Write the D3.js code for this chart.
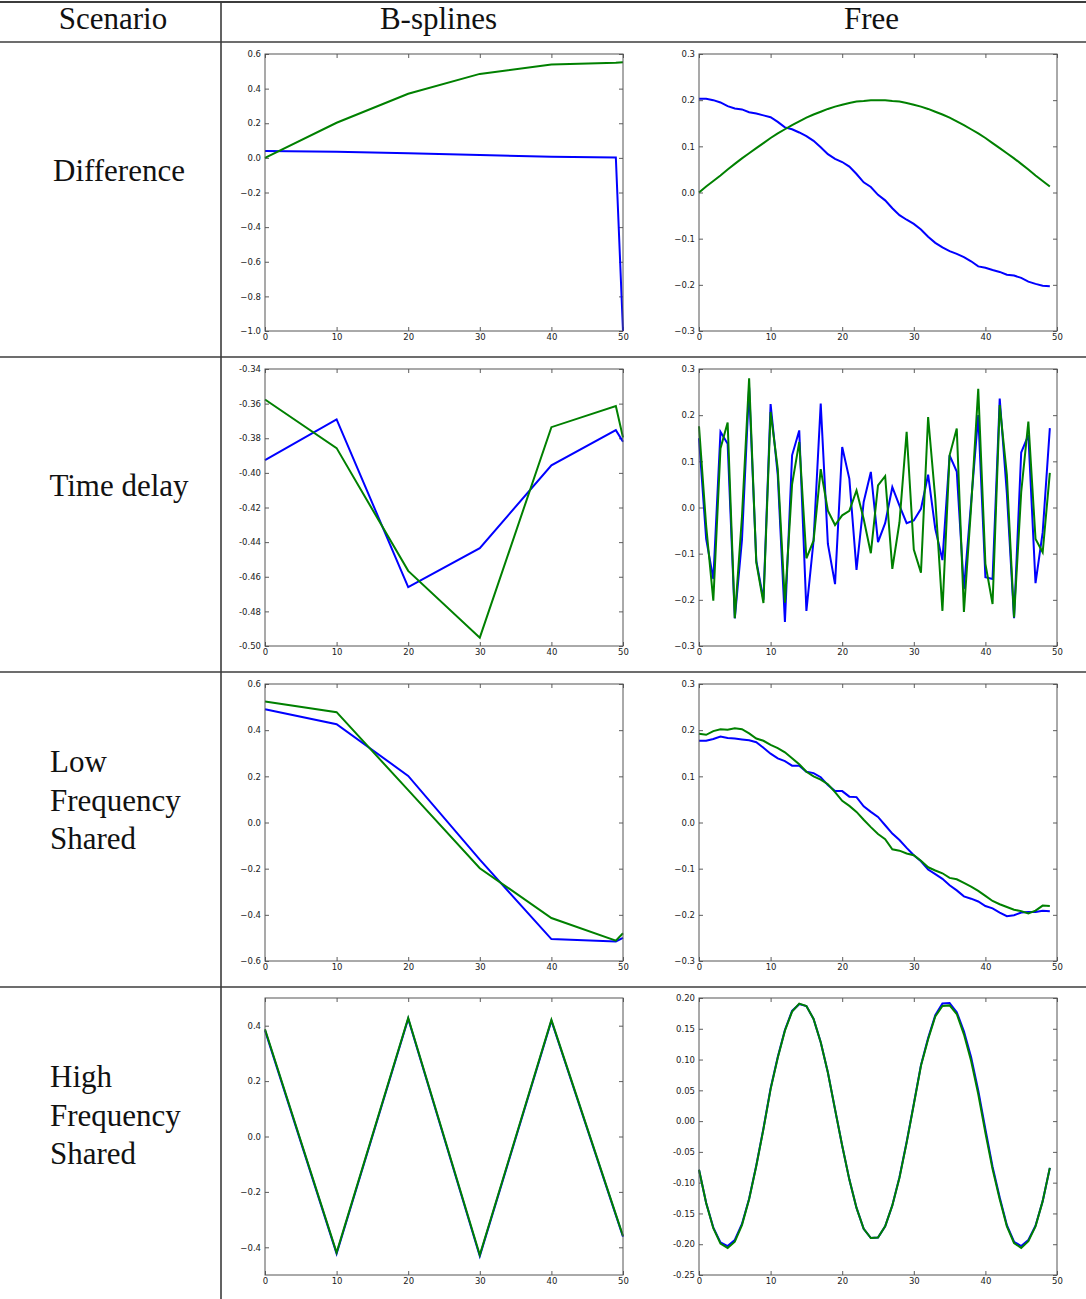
<!DOCTYPE html>
<html>
<head>
<meta charset="utf-8">
<script src="https://cdn.jsdelivr.net/npm/d3@7"></script>
<style>
  body { margin: 0; background: #fff; }
  svg { display: block; }
</style>
</head>
<body>
<svg id="chart" width="1086" height="1299"></svg>
<script>
// ---- table text ----
const columnHeaders = ["Scenario", "B-splines", "Free"];
const scenarioLabels = [["Difference"], ["Time delay"], ["Low", "Frequency", "Shared"], ["High", "Frequency", "Shared"]];

// ---- x axis ----
const bsplineX = [0, 10, 20, 30, 40, 49, 50];
const xTicks = [0, 10, 20, 30, 40, 50];
const xTickLabels = ["0", "10", "20", "30", "40", "50"];

// ---- Difference ----
const diffBsBlue  = [0.040, 0.036, 0.026, 0.016, 0.007, 0.002, -1.0];
const diffBsGreen = [0.000, 0.203, 0.370, 0.485, 0.539, 0.549, 0.552];
const diffFreeBlue = [
  0.203, 0.203, 0.200, 0.195, 0.187, 0.182, 0.180, 0.174, 0.171, 0.167,
  0.163, 0.153, 0.141, 0.137, 0.130, 0.122, 0.112, 0.098, 0.083, 0.073,
  0.066, 0.056, 0.040, 0.022, 0.012, -0.005, -0.017, -0.034, -0.049, -0.059,
  -0.068, -0.080, -0.096, -0.109, -0.119, -0.127, -0.133, -0.140, -0.149, -0.160,
  -0.163, -0.168, -0.172, -0.178, -0.180, -0.185, -0.193, -0.198, -0.202, -0.203];
const diffFreeGreen = [
  0.000, 0.013, 0.025, 0.037, 0.050, 0.062, 0.074, 0.085, 0.096, 0.107,
  0.118, 0.128, 0.137, 0.146, 0.154, 0.162, 0.169, 0.175, 0.181, 0.186,
  0.190, 0.194, 0.197, 0.198, 0.200, 0.200, 0.200, 0.198, 0.197, 0.194,
  0.190, 0.186, 0.181, 0.175, 0.169, 0.162, 0.154, 0.146, 0.137, 0.128,
  0.118, 0.107, 0.096, 0.085, 0.074, 0.062, 0.050, 0.037, 0.025, 0.013];

// ---- Time delay ----
const delayBsBlue  = [-0.3927, -0.3691, -0.4660, -0.4435, -0.3956, -0.3753, -0.3820];
const delayBsGreen = [-0.3576, -0.3857, -0.4566, -0.4952, -0.3736, -0.3614, -0.3796];
const delayFreeBlue = [
  0.150, -0.068, -0.155, 0.164, 0.138, -0.240, -0.070, 0.260, -0.115, -0.200,
  0.224, 0.070, -0.248, 0.113, 0.167, -0.224, -0.072, 0.225, -0.079, -0.166,
  0.131, 0.062, -0.135, 0.012, 0.077, -0.075, -0.034, 0.044, 0.004, -0.034,
  -0.028, -0.003, 0.071, -0.046, -0.114, 0.113, 0.078, -0.177, 0.010, 0.200,
  -0.151, -0.155, 0.236, 0.030, -0.240, 0.119, 0.157, -0.164, -0.054, 0.172];
const delayFreeGreen = [
  0.176, -0.040, -0.202, 0.128, 0.184, -0.240, -0.020, 0.280, -0.119, -0.207,
  0.207, 0.084, -0.206, 0.050, 0.142, -0.110, -0.072, 0.083, -0.007, -0.038,
  -0.017, -0.007, 0.037, -0.025, -0.099, 0.048, 0.068, -0.133, -0.032, 0.164,
  -0.091, -0.141, 0.196, 0.019, -0.224, 0.113, 0.171, -0.226, 0.000, 0.257,
  -0.122, -0.209, 0.222, 0.070, -0.238, 0.033, 0.186, -0.068, -0.097, 0.075];

// ---- Low frequency shared ----
const lowBsBlue  = [0.491, 0.426, 0.202, -0.161, -0.505, -0.515, -0.500];
const lowBsGreen = [0.524, 0.478, 0.140, -0.198, -0.414, -0.512, -0.480];
const lowFreeBlue = [
  0.177, 0.177, 0.181, 0.186, 0.183, 0.182, 0.180, 0.178, 0.174, 0.162,
  0.149, 0.139, 0.133, 0.123, 0.123, 0.110, 0.107, 0.098, 0.081, 0.068,
  0.068, 0.056, 0.055, 0.035, 0.023, 0.012, -0.006, -0.024, -0.038, -0.055,
  -0.071, -0.084, -0.102, -0.112, -0.122, -0.136, -0.147, -0.160, -0.165, -0.171,
  -0.181, -0.186, -0.195, -0.203, -0.201, -0.195, -0.194, -0.194, -0.191, -0.192];
const lowFreeGreen = [
  0.192, 0.190, 0.198, 0.202, 0.201, 0.204, 0.202, 0.193, 0.182, 0.177,
  0.168, 0.161, 0.152, 0.139, 0.126, 0.110, 0.100, 0.093, 0.083, 0.066,
  0.047, 0.036, 0.023, 0.006, -0.010, -0.025, -0.036, -0.058, -0.061, -0.067,
  -0.071, -0.083, -0.097, -0.104, -0.110, -0.120, -0.123, -0.131, -0.139, -0.148,
  -0.159, -0.170, -0.177, -0.183, -0.189, -0.192, -0.197, -0.191, -0.180, -0.181];

// ---- High frequency shared ----
const highBsBlue  = [0.383, -0.423, 0.425, -0.432, 0.418, -0.284, -0.362];
const highBsGreen = [0.387, -0.419, 0.428, -0.428, 0.421, -0.281, -0.359];
const highFreeBlue = [
  -0.079, -0.133, -0.173, -0.197, -0.203, -0.193, -0.167, -0.126, -0.072, -0.012,
  0.053, 0.104, 0.148, 0.179, 0.190, 0.187, 0.166, 0.128, 0.079, 0.019,
  -0.040, -0.095, -0.141, -0.175, -0.190, -0.189, -0.171, -0.137, -0.091, -0.034,
  0.028, 0.091, 0.135, 0.172, 0.191, 0.192, 0.177, 0.146, 0.104, 0.050,
  -0.013, -0.074, -0.124, -0.169, -0.196, -0.203, -0.193, -0.170, -0.130, -0.076];
const highFreeGreen = [
  -0.079, -0.133, -0.174, -0.199, -0.206, -0.196, -0.169, -0.127, -0.073, -0.013,
  0.052, 0.103, 0.147, 0.178, 0.191, 0.187, 0.166, 0.128, 0.079, 0.019,
  -0.040, -0.095, -0.141, -0.175, -0.190, -0.189, -0.171, -0.137, -0.092, -0.035,
  0.027, 0.090, 0.133, 0.170, 0.187, 0.188, 0.174, 0.141, 0.098, 0.044,
  -0.019, -0.078, -0.127, -0.171, -0.198, -0.206, -0.195, -0.171, -0.130, -0.076];

// ---- y axes: domains, tick values, tick labels ----
const yDomains = [[-1.0, 0.6], [-0.3, 0.3], [-0.50, -0.34], [-0.3, 0.3], [-0.6, 0.6], [-0.3, 0.3], [-0.5, 0.5], [-0.25, 0.20]];
const yTicks1 = [0.6, 0.4, 0.2, 0.0, -0.2, -0.4, -0.6, -0.8, -1.0];
const yLabels1 = ["0.6", "0.4", "0.2", "0.0", "\u22120.2", "\u22120.4", "\u22120.6", "\u22120.8", "\u22121.0"];
const yTicks3 = [0.3, 0.2, 0.1, 0.0, -0.1, -0.2, -0.3];
const yLabels3 = ["0.3", "0.2", "0.1", "0.0", "\u22120.1", "\u22120.2", "\u22120.3"];
const yTicksDelay = [-0.34, -0.36, -0.38, -0.40, -0.42, -0.44, -0.46, -0.48, -0.50];
const yLabelsDelay = ["-0.34", "-0.36", "-0.38", "-0.40", "-0.42", "-0.44", "-0.46", "-0.48", "-0.50"];
const yTicks6 = [0.6, 0.4, 0.2, 0.0, -0.2, -0.4, -0.6];
const yLabels6 = ["0.6", "0.4", "0.2", "0.0", "\u22120.2", "\u22120.4", "\u22120.6"];
const yTicks4 = [0.4, 0.2, 0.0, -0.2, -0.4];
const yLabels4 = ["0.4", "0.2", "0.0", "\u22120.2", "\u22120.4"];
const yTicksHigh = [0.20, 0.15, 0.10, 0.05, 0.00, -0.05, -0.10, -0.15, -0.20, -0.25];
const yLabelsHigh = ["0.20", "0.15", "0.10", "0.05", "0.00", "-0.05", "-0.10", "-0.15", "-0.20", "-0.25"];

// ---- panel table ----
const panels = [
  { row: 0, col: 0, xs: bsplineX, blue: diffBsBlue,  green: diffBsGreen,  dom: yDomains[0], ticks: yTicks1, labels: yLabels1 },
  { row: 0, col: 1, xs: null,     blue: diffFreeBlue, green: diffFreeGreen, dom: yDomains[1], ticks: yTicks3, labels: yLabels3 },
  { row: 1, col: 0, xs: bsplineX, blue: delayBsBlue, green: delayBsGreen, dom: yDomains[2], ticks: yTicksDelay, labels: yLabelsDelay },
  { row: 1, col: 1, xs: null,     blue: delayFreeBlue, green: delayFreeGreen, dom: yDomains[3], ticks: yTicks3, labels: yLabels3 },
  { row: 2, col: 0, xs: bsplineX, blue: lowBsBlue,   green: lowBsGreen,   dom: yDomains[4], ticks: yTicks6, labels: yLabels6 },
  { row: 2, col: 1, xs: null,     blue: lowFreeBlue, green: lowFreeGreen, dom: yDomains[5], ticks: yTicks3, labels: yLabels3 },
  { row: 3, col: 0, xs: bsplineX, blue: highBsBlue,  green: highBsGreen,  dom: yDomains[6], ticks: yTicks4, labels: yLabels4 },
  { row: 3, col: 1, xs: null,     blue: highFreeBlue, green: highFreeGreen, dom: yDomains[7], ticks: yTicksHigh, labels: yLabelsHigh }
];

// ---- layout ----
const svg = d3.select("#chart");
const colLeft = [265, 699];
const rowTop = [54, 369, 684, 998];
const PW = 358, PH = 277;
const ruleColor = "#3c3c3c";
const serif = "'Liberation Serif', 'Times New Roman', serif";

// table rules
const rules = svg.append("g").attr("stroke", ruleColor).attr("fill", "none");
rules.append("line").attr("x1", 0).attr("x2", 1086).attr("y1", 2).attr("y2", 2).attr("stroke-width", 2);
[42, 357, 672, 987].forEach(yv => {
  rules.append("line").attr("x1", 0).attr("x2", 1086).attr("y1", yv).attr("y2", yv).attr("stroke-width", 1.3);
});
rules.append("line").attr("x1", 221).attr("x2", 221).attr("y1", 2).attr("y2", 1299).attr("stroke-width", 1.6);

// column headers
const headerX = [113, 438.5, 871.5];
svg.append("g").selectAll("text").data(columnHeaders).join("text")
  .attr("x", (d, i) => headerX[i]).attr("y", 29)
  .attr("text-anchor", "middle")
  .attr("font-family", serif).attr("font-size", 31).attr("fill", "#111")
  .text(d => d);

// scenario labels
const labelBaseline = [181, 496, 772, 1087];
const lineStep = 38.7;
scenarioLabels.forEach((lines, r) => {
  const single = lines.length === 1;
  lines.forEach((t, k) => {
    svg.append("text")
      .attr("x", single ? 119 : 50)
      .attr("y", labelBaseline[r] + k * lineStep)
      .attr("text-anchor", single ? "middle" : "start")
      .attr("font-family", serif).attr("font-size", 31).attr("fill", "#111")
      .text(t);
  });
});

// panels
const tickFont = "'DejaVu Sans', sans-serif";
panels.forEach(p => {
  const g = svg.append("g").attr("transform", `translate(${colLeft[p.col]},${rowTop[p.row]})`);
  const x = d3.scaleLinear().domain([0, 50]).range([0, PW]);
  const y = d3.scaleLinear().domain(p.dom).range([PH, 0]);

  const styleAxis = sel => {
    sel.select(".domain").remove();
    sel.selectAll(".tick line").attr("stroke", "#333").attr("stroke-width", 0.8);
    sel.selectAll(".tick text").attr("fill", "#1a1a1a");
    sel.attr("font-family", tickFont).attr("font-size", 8.5);
  };

  g.append("g").attr("transform", `translate(0,${PH})`)
    .call(d3.axisBottom(x).tickValues(xTicks).tickFormat((d, i) => xTickLabels[i]).tickSize(-4).tickPadding(3))
    .call(styleAxis);
  g.append("g")
    .call(d3.axisTop(x).tickValues(xTicks).tickFormat("").tickSize(-4))
    .call(styleAxis);
  g.append("g")
    .call(d3.axisLeft(y).tickValues(p.ticks).tickFormat((d, i) => p.labels[i]).tickSize(-4).tickPadding(4))
    .call(styleAxis);
  g.append("g").attr("transform", `translate(${PW},0)`)
    .call(d3.axisRight(y).tickValues(p.ticks).tickFormat("").tickSize(-4))
    .call(styleAxis);

  const line = d3.line()
    .x((d, i) => x(p.xs ? p.xs[i] : i))
    .y(d => y(d));

  g.append("path").datum(p.blue)
    .attr("d", line).attr("fill", "none")
    .attr("stroke", "#0000ff").attr("stroke-width", 2).attr("stroke-linejoin", "miter");
  g.append("path").datum(p.green)
    .attr("d", line).attr("fill", "none")
    .attr("stroke", "#008000").attr("stroke-width", 2).attr("stroke-linejoin", "miter");

  g.append("rect").attr("x", 0).attr("y", 0).attr("width", PW).attr("height", PH)
    .attr("fill", "none").attr("stroke", "#555").attr("stroke-width", 1);
});
</script>
</body>
</html>
